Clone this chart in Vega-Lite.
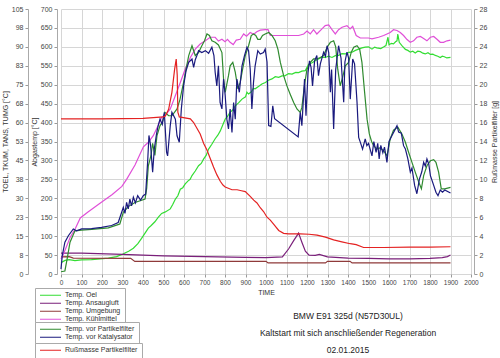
{
"$schema": "https://vega.github.io/schema/vega-lite/v6.json",
"width": 410, "height": 265,
"autosize": "none",
"padding": {"left": 61, "top": 9, "right": 29, "bottom": 84},
"background": "white",
"config": {
 "font": "Liberation Sans",
 "view": {"stroke": null},
 "axis": {"labelFont": "Liberation Sans", "labelFontSize": 7, "labelColor": "#444", "titleFont": "Liberation Sans", "titleFontSize": 7, "titleFontWeight": "normal", "titleColor": "#333", "tickColor": "#999", "domainColor": "#aaa", "gridColor": "#d6d6d6", "tickSize": 3, "labelPadding": 2, "labelFlush": false, "labelOverlap": false},
 "legend": {"orient": "none", "title": null, "strokeColor": "#aaa", "padding": 4, "symbolType": "stroke", "symbolSize": 441, "symbolStrokeWidth": 1.2, "clipHeight": 6.5, "rowPadding": 0, "labelFontSize": 7, "labelFont": "Liberation Sans", "labelColor": "#333", "labelOffset": 3, "fillColor": "white"},
 "title": {"font": "Liberation Sans"}
},
"title": {"text": ["BMW E91 325d (N57D30UL)", "Kaltstart mit sich anschließender Regeneration", "02.01.2015"], "orient": "bottom", "anchor": "middle", "frame": "group", "fontSize": 8.5, "fontWeight": "normal", "lineHeight": 17, "dx": 82, "dy": -57, "offset": 10, "color": "#222"},
"datasets": {
 "temps": [
  {"s":"Temp. Oel","t":0,"v":4.5},{"s":"Temp. Oel","t":20,"v":5.4},{"s":"Temp. Oel","t":40,"v":5.7},{"s":"Temp. Oel","t":68,"v":5.3},{"s":"Temp. Oel","t":100,"v":5.6},{"s":"Temp. Oel","t":149,"v":5.7},{"s":"Temp. Oel","t":192,"v":6.0},{"s":"Temp. Oel","t":231,"v":6.3},{"s":"Temp. Oel","t":271,"v":6.9},{"s":"Temp. Oel","t":300,"v":7.8},{"s":"Temp. Oel","t":312,"v":8.3},{"s":"Temp. Oel","t":330,"v":9.0},{"s":"Temp. Oel","t":353,"v":10.2},{"s":"Temp. Oel","t":375,"v":12.0},{"s":"Temp. Oel","t":393,"v":14.1},{"s":"Temp. Oel","t":410,"v":16.2},{"s":"Temp. Oel","t":426,"v":18.2},{"s":"Temp. Oel","t":440,"v":19.2},{"s":"Temp. Oel","t":458,"v":20.7},{"s":"Temp. Oel","t":475,"v":22.5},{"s":"Temp. Oel","t":491,"v":24.0},{"s":"Temp. Oel","t":509,"v":24.6},{"s":"Temp. Oel","t":533,"v":25.8},{"s":"Temp. Oel","t":545,"v":27.5},{"s":"Temp. Oel","t":558,"v":29.7},{"s":"Temp. Oel","t":570,"v":31.0},{"s":"Temp. Oel","t":582,"v":33.6},{"s":"Temp. Oel","t":594,"v":34.2},{"s":"Temp. Oel","t":606,"v":35.7},{"s":"Temp. Oel","t":620,"v":36.9},{"s":"Temp. Oel","t":630,"v":37.5},{"s":"Temp. Oel","t":639,"v":39.0},{"s":"Temp. Oel","t":655,"v":40.8},{"s":"Temp. Oel","t":671,"v":42.9},{"s":"Temp. Oel","t":684,"v":43.8},{"s":"Temp. Oel","t":696,"v":45.6},{"s":"Temp. Oel","t":708,"v":47.0},{"s":"Temp. Oel","t":720,"v":49.5},{"s":"Temp. Oel","t":735,"v":51.3},{"s":"Temp. Oel","t":752,"v":53.6},{"s":"Temp. Oel","t":765,"v":55.0},{"s":"Temp. Oel","t":777,"v":56.7},{"s":"Temp. Oel","t":790,"v":59.2},{"s":"Temp. Oel","t":801,"v":61.4},{"s":"Temp. Oel","t":813,"v":62.5},{"s":"Temp. Oel","t":825,"v":64.1},{"s":"Temp. Oel","t":838,"v":65.0},{"s":"Temp. Oel","t":850,"v":66.6},{"s":"Temp. Oel","t":866,"v":67.8},{"s":"Temp. Oel","t":883,"v":69.3},{"s":"Temp. Oel","t":900,"v":70.2},{"s":"Temp. Oel","t":907,"v":72.0},{"s":"Temp. Oel","t":915,"v":71.3},{"s":"Temp. Oel","t":930,"v":72.3},{"s":"Temp. Oel","t":938,"v":73.5},{"s":"Temp. Oel","t":947,"v":73.4},{"s":"Temp. Oel","t":965,"v":74.4},{"s":"Temp. Oel","t":980,"v":75.3},{"s":"Temp. Oel","t":997,"v":75.9},{"s":"Temp. Oel","t":1012,"v":76.8},{"s":"Temp. Oel","t":1029,"v":77.3},{"s":"Temp. Oel","t":1045,"v":78.2},{"s":"Temp. Oel","t":1062,"v":77.9},{"s":"Temp. Oel","t":1078,"v":78.5},{"s":"Temp. Oel","t":1094,"v":78.6},{"s":"Temp. Oel","t":1110,"v":79.4},{"s":"Temp. Oel","t":1127,"v":79.2},{"s":"Temp. Oel","t":1145,"v":79.9},{"s":"Temp. Oel","t":1159,"v":79.8},{"s":"Temp. Oel","t":1175,"v":80.4},{"s":"Temp. Oel","t":1192,"v":80.6},{"s":"Temp. Oel","t":1208,"v":83.1},{"s":"Temp. Oel","t":1225,"v":83.7},{"s":"Temp. Oel","t":1240,"v":84.5},{"s":"Temp. Oel","t":1256,"v":85.2},{"s":"Temp. Oel","t":1272,"v":85.9},{"s":"Temp. Oel","t":1289,"v":85.8},{"s":"Temp. Oel","t":1305,"v":86.3},{"s":"Temp. Oel","t":1322,"v":85.8},{"s":"Temp. Oel","t":1338,"v":86.5},{"s":"Temp. Oel","t":1354,"v":86.6},{"s":"Temp. Oel","t":1370,"v":87.3},{"s":"Temp. Oel","t":1387,"v":87.2},{"s":"Temp. Oel","t":1403,"v":87.8},{"s":"Temp. Oel","t":1420,"v":87.9},{"s":"Temp. Oel","t":1436,"v":88.6},{"s":"Temp. Oel","t":1452,"v":89.1},{"s":"Temp. Oel","t":1468,"v":89.6},{"s":"Temp. Oel","t":1484,"v":89.9},{"s":"Temp. Oel","t":1500,"v":90.0},{"s":"Temp. Oel","t":1517,"v":89.1},{"s":"Temp. Oel","t":1530,"v":89.9},{"s":"Temp. Oel","t":1540,"v":89.6},{"s":"Temp. Oel","t":1560,"v":89.3},{"s":"Temp. Oel","t":1575,"v":90.0},{"s":"Temp. Oel","t":1585,"v":90.5},{"s":"Temp. Oel","t":1595,"v":93.8},{"s":"Temp. Oel","t":1600,"v":90.8},{"s":"Temp. Oel","t":1612,"v":91.4},{"s":"Temp. Oel","t":1622,"v":91.2},{"s":"Temp. Oel","t":1632,"v":92.0},{"s":"Temp. Oel","t":1639,"v":92.4},{"s":"Temp. Oel","t":1643,"v":95.1},{"s":"Temp. Oel","t":1650,"v":91.8},{"s":"Temp. Oel","t":1663,"v":90.5},{"s":"Temp. Oel","t":1680,"v":89.0},{"s":"Temp. Oel","t":1692,"v":88.6},{"s":"Temp. Oel","t":1704,"v":87.9},{"s":"Temp. Oel","t":1716,"v":88.3},{"s":"Temp. Oel","t":1728,"v":87.6},{"s":"Temp. Oel","t":1740,"v":88.3},{"s":"Temp. Oel","t":1753,"v":88.1},{"s":"Temp. Oel","t":1765,"v":87.5},{"s":"Temp. Oel","t":1777,"v":87.2},{"s":"Temp. Oel","t":1790,"v":87.7},{"s":"Temp. Oel","t":1802,"v":87.0},{"s":"Temp. Oel","t":1814,"v":87.1},{"s":"Temp. Oel","t":1826,"v":86.6},{"s":"Temp. Oel","t":1838,"v":86.3},{"s":"Temp. Oel","t":1850,"v":85.8},{"s":"Temp. Oel","t":1860,"v":86.3},{"s":"Temp. Oel","t":1870,"v":86.1},{"s":"Temp. Oel","t":1882,"v":85.6},{"s":"Temp. Oel","t":1900,"v":85.8},
  {"s":"Temp. Ansaugluft","t":0,"v":8.3},{"s":"Temp. Ansaugluft","t":100,"v":8.3},{"s":"Temp. Ansaugluft","t":300,"v":7.8},{"s":"Temp. Ansaugluft","t":500,"v":7.2},{"s":"Temp. Ansaugluft","t":700,"v":6.9},{"s":"Temp. Ansaugluft","t":900,"v":6.6},{"s":"Temp. Ansaugluft","t":1000,"v":6.5},{"s":"Temp. Ansaugluft","t":1080,"v":6.8},{"s":"Temp. Ansaugluft","t":1110,"v":9.9},{"s":"Temp. Ansaugluft","t":1135,"v":13.2},{"s":"Temp. Ansaugluft","t":1159,"v":16.2},{"s":"Temp. Ansaugluft","t":1175,"v":12.6},{"s":"Temp. Ansaugluft","t":1192,"v":9.0},{"s":"Temp. Ansaugluft","t":1210,"v":7.5},{"s":"Temp. Ansaugluft","t":1240,"v":7.4},{"s":"Temp. Ansaugluft","t":1260,"v":7.8},{"s":"Temp. Ansaugluft","t":1300,"v":6.8},{"s":"Temp. Ansaugluft","t":1400,"v":6.3},{"s":"Temp. Ansaugluft","t":1500,"v":6.2},{"s":"Temp. Ansaugluft","t":1600,"v":6.0},{"s":"Temp. Ansaugluft","t":1700,"v":6.0},{"s":"Temp. Ansaugluft","t":1800,"v":6.2},{"s":"Temp. Ansaugluft","t":1860,"v":6.5},{"s":"Temp. Ansaugluft","t":1885,"v":6.9},{"s":"Temp. Ansaugluft","t":1900,"v":7.5},
  {"s":"Temp. Umgebung","t":0,"v":6.8},{"s":"Temp. Umgebung","t":40,"v":6.9},{"s":"Temp. Umgebung","t":60,"v":6.3},{"s":"Temp. Umgebung","t":340,"v":6.2},{"s":"Temp. Umgebung","t":360,"v":5.0},{"s":"Temp. Umgebung","t":1000,"v":5.0},{"s":"Temp. Umgebung","t":1010,"v":4.4},{"s":"Temp. Umgebung","t":1290,"v":4.4},{"s":"Temp. Umgebung","t":1300,"v":5.0},{"s":"Temp. Umgebung","t":1410,"v":5.0},{"s":"Temp. Umgebung","t":1420,"v":4.4},{"s":"Temp. Umgebung","t":1900,"v":4.4},
  {"s":"Temp. Kühlmittel","t":0,"v":6.0},{"s":"Temp. Kühlmittel","t":10,"v":7.5},{"s":"Temp. Kühlmittel","t":25,"v":10.5},{"s":"Temp. Kühlmittel","t":45,"v":14.6},{"s":"Temp. Kühlmittel","t":70,"v":18.0},{"s":"Temp. Kühlmittel","t":94,"v":22.2},{"s":"Temp. Kühlmittel","t":130,"v":24.5},{"s":"Temp. Kühlmittel","t":192,"v":28.1},{"s":"Temp. Kühlmittel","t":250,"v":31.5},{"s":"Temp. Kühlmittel","t":297,"v":34.7},{"s":"Temp. Kühlmittel","t":320,"v":37.5},{"s":"Temp. Kühlmittel","t":361,"v":43.2},{"s":"Temp. Kühlmittel","t":402,"v":50.4},{"s":"Temp. Kühlmittel","t":426,"v":52.2},{"s":"Temp. Kühlmittel","t":450,"v":54.8},{"s":"Temp. Kühlmittel","t":474,"v":58.8},{"s":"Temp. Kühlmittel","t":491,"v":62.1},{"s":"Temp. Kühlmittel","t":510,"v":63.0},{"s":"Temp. Kühlmittel","t":533,"v":65.4},{"s":"Temp. Kühlmittel","t":558,"v":70.7},{"s":"Temp. Kühlmittel","t":582,"v":75.9},{"s":"Temp. Kühlmittel","t":606,"v":81.2},{"s":"Temp. Kühlmittel","t":631,"v":85.8},{"s":"Temp. Kühlmittel","t":655,"v":89.1},{"s":"Temp. Kühlmittel","t":679,"v":91.1},{"s":"Temp. Kühlmittel","t":704,"v":92.4},{"s":"Temp. Kühlmittel","t":728,"v":93.8},{"s":"Temp. Kühlmittel","t":752,"v":93.8},{"s":"Temp. Kühlmittel","t":768,"v":92.3},{"s":"Temp. Kühlmittel","t":785,"v":93.0},{"s":"Temp. Kühlmittel","t":800,"v":92.0},{"s":"Temp. Kühlmittel","t":812,"v":93.0},{"s":"Temp. Kühlmittel","t":825,"v":91.8},{"s":"Temp. Kühlmittel","t":840,"v":90.9},{"s":"Temp. Kühlmittel","t":855,"v":92.7},{"s":"Temp. Kühlmittel","t":874,"v":93.0},{"s":"Temp. Kühlmittel","t":891,"v":95.1},{"s":"Temp. Kühlmittel","t":905,"v":94.2},{"s":"Temp. Kühlmittel","t":923,"v":95.7},{"s":"Temp. Kühlmittel","t":940,"v":95.0},{"s":"Temp. Kühlmittel","t":955,"v":96.0},{"s":"Temp. Kühlmittel","t":972,"v":96.6},{"s":"Temp. Kühlmittel","t":996,"v":96.8},{"s":"Temp. Kühlmittel","t":1010,"v":96.8},{"s":"Temp. Kühlmittel","t":1021,"v":94.5},{"s":"Temp. Kühlmittel","t":1078,"v":94.5},{"s":"Temp. Kühlmittel","t":1159,"v":94.5},{"s":"Temp. Kühlmittel","t":1184,"v":95.1},{"s":"Temp. Kühlmittel","t":1200,"v":96.3},{"s":"Temp. Kühlmittel","t":1216,"v":95.1},{"s":"Temp. Kühlmittel","t":1232,"v":96.8},{"s":"Temp. Kühlmittel","t":1248,"v":95.1},{"s":"Temp. Kühlmittel","t":1273,"v":97.1},{"s":"Temp. Kühlmittel","t":1289,"v":98.4},{"s":"Temp. Kühlmittel","t":1306,"v":98.7},{"s":"Temp. Kühlmittel","t":1322,"v":96.8},{"s":"Temp. Kühlmittel","t":1338,"v":95.1},{"s":"Temp. Kühlmittel","t":1354,"v":96.8},{"s":"Temp. Kühlmittel","t":1371,"v":97.8},{"s":"Temp. Kühlmittel","t":1395,"v":98.4},{"s":"Temp. Kühlmittel","t":1410,"v":97.1},{"s":"Temp. Kühlmittel","t":1423,"v":98.1},{"s":"Temp. Kühlmittel","t":1440,"v":94.5},{"s":"Temp. Kühlmittel","t":1460,"v":93.5},{"s":"Temp. Kühlmittel","t":1500,"v":93.5},{"s":"Temp. Kühlmittel","t":1517,"v":93.2},{"s":"Temp. Kühlmittel","t":1549,"v":93.8},{"s":"Temp. Kühlmittel","t":1574,"v":94.5},{"s":"Temp. Kühlmittel","t":1590,"v":95.1},{"s":"Temp. Kühlmittel","t":1606,"v":95.7},{"s":"Temp. Kühlmittel","t":1622,"v":96.8},{"s":"Temp. Kühlmittel","t":1639,"v":96.5},{"s":"Temp. Kühlmittel","t":1655,"v":95.7},{"s":"Temp. Kühlmittel","t":1671,"v":94.5},{"s":"Temp. Kühlmittel","t":1688,"v":92.9},{"s":"Temp. Kühlmittel","t":1704,"v":91.8},{"s":"Temp. Kühlmittel","t":1720,"v":92.4},{"s":"Temp. Kühlmittel","t":1736,"v":93.8},{"s":"Temp. Kühlmittel","t":1753,"v":94.1},{"s":"Temp. Kühlmittel","t":1769,"v":93.3},{"s":"Temp. Kühlmittel","t":1785,"v":92.4},{"s":"Temp. Kühlmittel","t":1802,"v":93.8},{"s":"Temp. Kühlmittel","t":1818,"v":94.1},{"s":"Temp. Kühlmittel","t":1834,"v":93.0},{"s":"Temp. Kühlmittel","t":1850,"v":91.8},{"s":"Temp. Kühlmittel","t":1866,"v":91.8},{"s":"Temp. Kühlmittel","t":1883,"v":92.4},{"s":"Temp. Kühlmittel","t":1900,"v":92.7}
 ],
 "abgas": [
  {"s":"Temp. vor Partikelfilter","t":0,"v":6},{"s":"Temp. vor Partikelfilter","t":19,"v":8},{"s":"Temp. vor Partikelfilter","t":30,"v":40},{"s":"Temp. vor Partikelfilter","t":44,"v":84},{"s":"Temp. vor Partikelfilter","t":68,"v":114},{"s":"Temp. vor Partikelfilter","t":100,"v":116},{"s":"Temp. vor Partikelfilter","t":150,"v":118},{"s":"Temp. vor Partikelfilter","t":231,"v":122},{"s":"Temp. vor Partikelfilter","t":271,"v":129},{"s":"Temp. vor Partikelfilter","t":287,"v":132},{"s":"Temp. vor Partikelfilter","t":304,"v":163},{"s":"Temp. vor Partikelfilter","t":328,"v":178},{"s":"Temp. vor Partikelfilter","t":361,"v":189},{"s":"Temp. vor Partikelfilter","t":410,"v":198},{"s":"Temp. vor Partikelfilter","t":418,"v":226},{"s":"Temp. vor Partikelfilter","t":426,"v":286},{"s":"Temp. vor Partikelfilter","t":439,"v":313},{"s":"Temp. vor Partikelfilter","t":447,"v":345},{"s":"Temp. vor Partikelfilter","t":458,"v":313},{"s":"Temp. vor Partikelfilter","t":468,"v":365},{"s":"Temp. vor Partikelfilter","t":483,"v":392},{"s":"Temp. vor Partikelfilter","t":494,"v":400},{"s":"Temp. vor Partikelfilter","t":507,"v":427},{"s":"Temp. vor Partikelfilter","t":525,"v":418},{"s":"Temp. vor Partikelfilter","t":541,"v":418},{"s":"Temp. vor Partikelfilter","t":566,"v":436},{"s":"Temp. vor Partikelfilter","t":580,"v":460},{"s":"Temp. vor Partikelfilter","t":598,"v":506},{"s":"Temp. vor Partikelfilter","t":610,"v":541},{"s":"Temp. vor Partikelfilter","t":623,"v":577},{"s":"Temp. vor Partikelfilter","t":639,"v":603},{"s":"Temp. vor Partikelfilter","t":655,"v":577},{"s":"Temp. vor Partikelfilter","t":671,"v":585},{"s":"Temp. vor Partikelfilter","t":687,"v":603},{"s":"Temp. vor Partikelfilter","t":700,"v":616},{"s":"Temp. vor Partikelfilter","t":712,"v":634},{"s":"Temp. vor Partikelfilter","t":724,"v":630},{"s":"Temp. vor Partikelfilter","t":736,"v":616},{"s":"Temp. vor Partikelfilter","t":752,"v":612},{"s":"Temp. vor Partikelfilter","t":768,"v":605},{"s":"Temp. vor Partikelfilter","t":785,"v":585},{"s":"Temp. vor Partikelfilter","t":793,"v":515},{"s":"Temp. vor Partikelfilter","t":801,"v":480},{"s":"Temp. vor Partikelfilter","t":817,"v":524},{"s":"Temp. vor Partikelfilter","t":825,"v":550},{"s":"Temp. vor Partikelfilter","t":838,"v":559},{"s":"Temp. vor Partikelfilter","t":850,"v":533},{"s":"Temp. vor Partikelfilter","t":863,"v":489},{"s":"Temp. vor Partikelfilter","t":874,"v":506},{"s":"Temp. vor Partikelfilter","t":886,"v":541},{"s":"Temp. vor Partikelfilter","t":899,"v":577},{"s":"Temp. vor Partikelfilter","t":915,"v":603},{"s":"Temp. vor Partikelfilter","t":928,"v":630},{"s":"Temp. vor Partikelfilter","t":939,"v":634},{"s":"Temp. vor Partikelfilter","t":950,"v":630},{"s":"Temp. vor Partikelfilter","t":960,"v":620},{"s":"Temp. vor Partikelfilter","t":972,"v":620},{"s":"Temp. vor Partikelfilter","t":983,"v":630},{"s":"Temp. vor Partikelfilter","t":996,"v":634},{"s":"Temp. vor Partikelfilter","t":1013,"v":638},{"s":"Temp. vor Partikelfilter","t":1029,"v":630},{"s":"Temp. vor Partikelfilter","t":1045,"v":616},{"s":"Temp. vor Partikelfilter","t":1058,"v":594},{"s":"Temp. vor Partikelfilter","t":1070,"v":559},{"s":"Temp. vor Partikelfilter","t":1086,"v":524},{"s":"Temp. vor Partikelfilter","t":1102,"v":497},{"s":"Temp. vor Partikelfilter","t":1118,"v":475},{"s":"Temp. vor Partikelfilter","t":1135,"v":453},{"s":"Temp. vor Partikelfilter","t":1151,"v":436},{"s":"Temp. vor Partikelfilter","t":1167,"v":427},{"s":"Temp. vor Partikelfilter","t":1175,"v":440},{"s":"Temp. vor Partikelfilter","t":1188,"v":500},{"s":"Temp. vor Partikelfilter","t":1200,"v":541},{"s":"Temp. vor Partikelfilter","t":1216,"v":559},{"s":"Temp. vor Partikelfilter","t":1232,"v":568},{"s":"Temp. vor Partikelfilter","t":1248,"v":568},{"s":"Temp. vor Partikelfilter","t":1265,"v":572},{"s":"Temp. vor Partikelfilter","t":1281,"v":577},{"s":"Temp. vor Partikelfilter","t":1298,"v":599},{"s":"Temp. vor Partikelfilter","t":1314,"v":612},{"s":"Temp. vor Partikelfilter","t":1330,"v":616},{"s":"Temp. vor Partikelfilter","t":1340,"v":600},{"s":"Temp. vor Partikelfilter","t":1350,"v":541},{"s":"Temp. vor Partikelfilter","t":1362,"v":497},{"s":"Temp. vor Partikelfilter","t":1374,"v":520},{"s":"Temp. vor Partikelfilter","t":1387,"v":550},{"s":"Temp. vor Partikelfilter","t":1403,"v":559},{"s":"Temp. vor Partikelfilter","t":1416,"v":586},{"s":"Temp. vor Partikelfilter","t":1428,"v":599},{"s":"Temp. vor Partikelfilter","t":1444,"v":603},{"s":"Temp. vor Partikelfilter","t":1457,"v":594},{"s":"Temp. vor Partikelfilter","t":1468,"v":559},{"s":"Temp. vor Partikelfilter","t":1481,"v":480},{"s":"Temp. vor Partikelfilter","t":1493,"v":409},{"s":"Temp. vor Partikelfilter","t":1504,"v":370},{"s":"Temp. vor Partikelfilter","t":1515,"v":350},{"s":"Temp. vor Partikelfilter","t":1525,"v":339},{"s":"Temp. vor Partikelfilter","t":1541,"v":330},{"s":"Temp. vor Partikelfilter","t":1555,"v":333},{"s":"Temp. vor Partikelfilter","t":1574,"v":326},{"s":"Temp. vor Partikelfilter","t":1590,"v":312},{"s":"Temp. vor Partikelfilter","t":1606,"v":357},{"s":"Temp. vor Partikelfilter","t":1622,"v":380},{"s":"Temp. vor Partikelfilter","t":1643,"v":388},{"s":"Temp. vor Partikelfilter","t":1663,"v":370},{"s":"Temp. vor Partikelfilter","t":1680,"v":348},{"s":"Temp. vor Partikelfilter","t":1696,"v":321},{"s":"Temp. vor Partikelfilter","t":1712,"v":295},{"s":"Temp. vor Partikelfilter","t":1728,"v":269},{"s":"Temp. vor Partikelfilter","t":1745,"v":243},{"s":"Temp. vor Partikelfilter","t":1758,"v":225},{"s":"Temp. vor Partikelfilter","t":1769,"v":260},{"s":"Temp. vor Partikelfilter","t":1785,"v":286},{"s":"Temp. vor Partikelfilter","t":1802,"v":299},{"s":"Temp. vor Partikelfilter","t":1818,"v":302},{"s":"Temp. vor Partikelfilter","t":1829,"v":295},{"s":"Temp. vor Partikelfilter","t":1842,"v":269},{"s":"Temp. vor Partikelfilter","t":1855,"v":225},{"s":"Temp. vor Partikelfilter","t":1872,"v":225},{"s":"Temp. vor Partikelfilter","t":1900,"v":229},
  {"s":"Temp. vor Katalysator","t":0,"v":13},{"s":"Temp. vor Katalysator","t":6,"v":48},{"s":"Temp. vor Katalysator","t":19,"v":84},{"s":"Temp. vor Katalysator","t":36,"v":101},{"s":"Temp. vor Katalysator","t":60,"v":119},{"s":"Temp. vor Katalysator","t":76,"v":114},{"s":"Temp. vor Katalysator","t":101,"v":119},{"s":"Temp. vor Katalysator","t":149,"v":120},{"s":"Temp. vor Katalysator","t":198,"v":123},{"s":"Temp. vor Katalysator","t":247,"v":128},{"s":"Temp. vor Katalysator","t":279,"v":136},{"s":"Temp. vor Katalysator","t":296,"v":163},{"s":"Temp. vor Katalysator","t":304,"v":176},{"s":"Temp. vor Katalysator","t":312,"v":160},{"s":"Temp. vor Katalysator","t":320,"v":189},{"s":"Temp. vor Katalysator","t":328,"v":172},{"s":"Temp. vor Katalysator","t":336,"v":198},{"s":"Temp. vor Katalysator","t":344,"v":180},{"s":"Temp. vor Katalysator","t":353,"v":203},{"s":"Temp. vor Katalysator","t":363,"v":188},{"s":"Temp. vor Katalysator","t":374,"v":207},{"s":"Temp. vor Katalysator","t":388,"v":195},{"s":"Temp. vor Katalysator","t":401,"v":207},{"s":"Temp. vor Katalysator","t":413,"v":211},{"s":"Temp. vor Katalysator","t":423,"v":300},{"s":"Temp. vor Katalysator","t":429,"v":366},{"s":"Temp. vor Katalysator","t":437,"v":340},{"s":"Temp. vor Katalysator","t":447,"v":269},{"s":"Temp. vor Katalysator","t":455,"v":330},{"s":"Temp. vor Katalysator","t":466,"v":370},{"s":"Temp. vor Katalysator","t":474,"v":392},{"s":"Temp. vor Katalysator","t":483,"v":409},{"s":"Temp. vor Katalysator","t":494,"v":395},{"s":"Temp. vor Katalysator","t":504,"v":427},{"s":"Temp. vor Katalysator","t":515,"v":322},{"s":"Temp. vor Katalysator","t":520,"v":312},{"s":"Temp. vor Katalysator","t":533,"v":392},{"s":"Temp. vor Katalysator","t":541,"v":427},{"s":"Temp. vor Katalysator","t":558,"v":409},{"s":"Temp. vor Katalysator","t":566,"v":365},{"s":"Temp. vor Katalysator","t":577,"v":348},{"s":"Temp. vor Katalysator","t":587,"v":436},{"s":"Temp. vor Katalysator","t":598,"v":497},{"s":"Temp. vor Katalysator","t":610,"v":537},{"s":"Temp. vor Katalysator","t":623,"v":559},{"s":"Temp. vor Katalysator","t":639,"v":568},{"s":"Temp. vor Katalysator","t":647,"v":546},{"s":"Temp. vor Katalysator","t":655,"v":566},{"s":"Temp. vor Katalysator","t":663,"v":577},{"s":"Temp. vor Katalysator","t":671,"v":590},{"s":"Temp. vor Katalysator","t":687,"v":585},{"s":"Temp. vor Katalysator","t":704,"v":590},{"s":"Temp. vor Katalysator","t":720,"v":583},{"s":"Temp. vor Katalysator","t":736,"v":599},{"s":"Temp. vor Katalysator","t":746,"v":577},{"s":"Temp. vor Katalysator","t":752,"v":533},{"s":"Temp. vor Katalysator","t":760,"v":497},{"s":"Temp. vor Katalysator","t":768,"v":550},{"s":"Temp. vor Katalysator","t":776,"v":453},{"s":"Temp. vor Katalysator","t":785,"v":436},{"s":"Temp. vor Katalysator","t":793,"v":515},{"s":"Temp. vor Katalysator","t":801,"v":471},{"s":"Temp. vor Katalysator","t":809,"v":409},{"s":"Temp. vor Katalysator","t":817,"v":383},{"s":"Temp. vor Katalysator","t":825,"v":436},{"s":"Temp. vor Katalysator","t":834,"v":374},{"s":"Temp. vor Katalysator","t":842,"v":453},{"s":"Temp. vor Katalysator","t":850,"v":409},{"s":"Temp. vor Katalysator","t":858,"v":515},{"s":"Temp. vor Katalysator","t":870,"v":480},{"s":"Temp. vor Katalysator","t":883,"v":550},{"s":"Temp. vor Katalysator","t":895,"v":577},{"s":"Temp. vor Katalysator","t":907,"v":599},{"s":"Temp. vor Katalysator","t":915,"v":590},{"s":"Temp. vor Katalysator","t":923,"v":541},{"s":"Temp. vor Katalysator","t":931,"v":436},{"s":"Temp. vor Katalysator","t":939,"v":506},{"s":"Temp. vor Katalysator","t":947,"v":550},{"s":"Temp. vor Katalysator","t":960,"v":590},{"s":"Temp. vor Katalysator","t":972,"v":581},{"s":"Temp. vor Katalysator","t":988,"v":585},{"s":"Temp. vor Katalysator","t":996,"v":594},{"s":"Temp. vor Katalysator","t":1005,"v":560},{"s":"Temp. vor Katalysator","t":1013,"v":392},{"s":"Temp. vor Katalysator","t":1024,"v":390},{"s":"Temp. vor Katalysator","t":1033,"v":444},{"s":"Temp. vor Katalysator","t":1042,"v":410},{"s":"Temp. vor Katalysator","t":1157,"v":362},{"s":"Temp. vor Katalysator","t":1167,"v":427},{"s":"Temp. vor Katalysator","t":1175,"v":392},{"s":"Temp. vor Katalysator","t":1188,"v":515},{"s":"Temp. vor Katalysator","t":1195,"v":418},{"s":"Temp. vor Katalysator","t":1205,"v":532},{"s":"Temp. vor Katalysator","t":1212,"v":563},{"s":"Temp. vor Katalysator","t":1220,"v":545},{"s":"Temp. vor Katalysator","t":1227,"v":497},{"s":"Temp. vor Katalysator","t":1237,"v":563},{"s":"Temp. vor Katalysator","t":1248,"v":577},{"s":"Temp. vor Katalysator","t":1256,"v":524},{"s":"Temp. vor Katalysator","t":1265,"v":555},{"s":"Temp. vor Katalysator","t":1281,"v":586},{"s":"Temp. vor Katalysator","t":1290,"v":575},{"s":"Temp. vor Katalysator","t":1298,"v":603},{"s":"Temp. vor Katalysator","t":1306,"v":585},{"s":"Temp. vor Katalysator","t":1314,"v":480},{"s":"Temp. vor Katalysator","t":1320,"v":540},{"s":"Temp. vor Katalysator","t":1330,"v":383},{"s":"Temp. vor Katalysator","t":1340,"v":540},{"s":"Temp. vor Katalysator","t":1354,"v":603},{"s":"Temp. vor Katalysator","t":1366,"v":570},{"s":"Temp. vor Katalysator","t":1379,"v":454},{"s":"Temp. vor Katalysator","t":1385,"v":560},{"s":"Temp. vor Katalysator","t":1395,"v":586},{"s":"Temp. vor Katalysator","t":1403,"v":570},{"s":"Temp. vor Katalysator","t":1411,"v":462},{"s":"Temp. vor Katalysator","t":1423,"v":568},{"s":"Temp. vor Katalysator","t":1432,"v":555},{"s":"Temp. vor Katalysator","t":1444,"v":454},{"s":"Temp. vor Katalysator","t":1452,"v":361},{"s":"Temp. vor Katalysator","t":1462,"v":345},{"s":"Temp. vor Katalysator","t":1471,"v":330},{"s":"Temp. vor Katalysator","t":1484,"v":357},{"s":"Temp. vor Katalysator","t":1492,"v":339},{"s":"Temp. vor Katalysator","t":1500,"v":345},{"s":"Temp. vor Katalysator","t":1517,"v":312},{"s":"Temp. vor Katalysator","t":1526,"v":350},{"s":"Temp. vor Katalysator","t":1537,"v":321},{"s":"Temp. vor Katalysator","t":1545,"v":345},{"s":"Temp. vor Katalysator","t":1552,"v":304},{"s":"Temp. vor Katalysator","t":1560,"v":340},{"s":"Temp. vor Katalysator","t":1570,"v":320},{"s":"Temp. vor Katalysator","t":1578,"v":335},{"s":"Temp. vor Katalysator","t":1590,"v":295},{"s":"Temp. vor Katalysator","t":1600,"v":350},{"s":"Temp. vor Katalysator","t":1614,"v":365},{"s":"Temp. vor Katalysator","t":1628,"v":380},{"s":"Temp. vor Katalysator","t":1639,"v":392},{"s":"Temp. vor Katalysator","t":1647,"v":375},{"s":"Temp. vor Katalysator","t":1660,"v":372},{"s":"Temp. vor Katalysator","t":1671,"v":339},{"s":"Temp. vor Katalysator","t":1680,"v":330},{"s":"Temp. vor Katalysator","t":1692,"v":304},{"s":"Temp. vor Katalysator","t":1704,"v":269},{"s":"Temp. vor Katalysator","t":1712,"v":280},{"s":"Temp. vor Katalysator","t":1725,"v":234},{"s":"Temp. vor Katalysator","t":1736,"v":212},{"s":"Temp. vor Katalysator","t":1748,"v":250},{"s":"Temp. vor Katalysator","t":1760,"v":270},{"s":"Temp. vor Katalysator","t":1769,"v":295},{"s":"Temp. vor Katalysator","t":1777,"v":285},{"s":"Temp. vor Katalysator","t":1785,"v":304},{"s":"Temp. vor Katalysator","t":1794,"v":290},{"s":"Temp. vor Katalysator","t":1802,"v":260},{"s":"Temp. vor Katalysator","t":1818,"v":234},{"s":"Temp. vor Katalysator","t":1829,"v":216},{"s":"Temp. vor Katalysator","t":1839,"v":207},{"s":"Temp. vor Katalysator","t":1850,"v":222},{"s":"Temp. vor Katalysator","t":1861,"v":216},{"s":"Temp. vor Katalysator","t":1872,"v":222},{"s":"Temp. vor Katalysator","t":1900,"v":214}
 ],
 "soot": [
  {"s":"Rußmasse Partikelfilter","t":0,"v":16.4},{"s":"Rußmasse Partikelfilter","t":200,"v":16.4},{"s":"Rußmasse Partikelfilter","t":400,"v":16.44},{"s":"Rußmasse Partikelfilter","t":500,"v":16.6},{"s":"Rußmasse Partikelfilter","t":509,"v":16.7},{"s":"Rußmasse Partikelfilter","t":525,"v":17.4},{"s":"Rußmasse Partikelfilter","t":541,"v":19.2},{"s":"Rußmasse Partikelfilter","t":554,"v":21.6},{"s":"Rußmasse Partikelfilter","t":562,"v":22.7},{"s":"Rußmasse Partikelfilter","t":567,"v":21.0},{"s":"Rußmasse Partikelfilter","t":570,"v":17.1},{"s":"Rußmasse Partikelfilter","t":577,"v":16.6},{"s":"Rußmasse Partikelfilter","t":631,"v":16.4},{"s":"Rußmasse Partikelfilter","t":647,"v":16.0},{"s":"Rußmasse Partikelfilter","t":663,"v":15.4},{"s":"Rußmasse Partikelfilter","t":679,"v":14.8},{"s":"Rußmasse Partikelfilter","t":696,"v":13.8},{"s":"Rußmasse Partikelfilter","t":712,"v":13.1},{"s":"Rußmasse Partikelfilter","t":728,"v":12.2},{"s":"Rußmasse Partikelfilter","t":744,"v":11.3},{"s":"Rußmasse Partikelfilter","t":760,"v":10.5},{"s":"Rußmasse Partikelfilter","t":777,"v":9.8},{"s":"Rußmasse Partikelfilter","t":790,"v":9.4},{"s":"Rußmasse Partikelfilter","t":801,"v":9.2},{"s":"Rußmasse Partikelfilter","t":834,"v":8.9},{"s":"Rußmasse Partikelfilter","t":859,"v":8.9},{"s":"Rußmasse Partikelfilter","t":880,"v":8.8},{"s":"Rußmasse Partikelfilter","t":899,"v":8.7},{"s":"Rußmasse Partikelfilter","t":923,"v":8.2},{"s":"Rußmasse Partikelfilter","t":940,"v":7.8},{"s":"Rußmasse Partikelfilter","t":956,"v":7.5},{"s":"Rußmasse Partikelfilter","t":972,"v":7.0},{"s":"Rußmasse Partikelfilter","t":988,"v":6.6},{"s":"Rußmasse Partikelfilter","t":1005,"v":6.0},{"s":"Rußmasse Partikelfilter","t":1021,"v":5.7},{"s":"Rußmasse Partikelfilter","t":1040,"v":5.2},{"s":"Rußmasse Partikelfilter","t":1062,"v":4.6},{"s":"Rußmasse Partikelfilter","t":1086,"v":4.3},{"s":"Rußmasse Partikelfilter","t":1110,"v":4.25},{"s":"Rußmasse Partikelfilter","t":1167,"v":4.24},{"s":"Rußmasse Partikelfilter","t":1210,"v":4.2},{"s":"Rußmasse Partikelfilter","t":1249,"v":4.1},{"s":"Rußmasse Partikelfilter","t":1290,"v":3.9},{"s":"Rußmasse Partikelfilter","t":1330,"v":3.6},{"s":"Rußmasse Partikelfilter","t":1370,"v":3.4},{"s":"Rußmasse Partikelfilter","t":1411,"v":3.2},{"s":"Rußmasse Partikelfilter","t":1440,"v":3.1},{"s":"Rußmasse Partikelfilter","t":1476,"v":2.8},{"s":"Rußmasse Partikelfilter","t":1574,"v":2.8},{"s":"Rußmasse Partikelfilter","t":1700,"v":2.84},{"s":"Rußmasse Partikelfilter","t":1800,"v":2.85},{"s":"Rußmasse Partikelfilter","t":1900,"v":2.88}
 ]
},
"layer": [
 {
  "data": {"name": "temps"},
  "mark": {"type": "line", "strokeWidth": 1.2},
  "encoding": {
   "x": {"field": "t", "type": "quantitative", "scale": {"domain": [0, 2000], "nice": false, "zero": false},
         "axis": {"values": [0,100,200,300,400,500,600,700,800,900,1000,1100,1200,1300,1400,1500,1600,1700,1800,1900,2000], "format": "d", "title": "TIME", "grid": true, "labelFontSize": 6.5, "titlePadding": 3, "domain": false, "labelOverlap": false, "labelFlush": false}},
   "y": {"field": "v", "type": "quantitative", "scale": {"domain": [0, 105], "nice": false},
         "axis": {"orient": "left", "offset": 33, "values": [0,7.5,15,22.5,30,37.5,45,52.5,60,67.5,75,82.5,90,97.5,105], "format": ".0f", "grid": false, "title": "TOEL, TKUM, TANS, TUMG [°C]", "titlePadding": 3}},
   "color": {"field": "s", "type": "nominal",
     "scale": {"domain": ["Temp. Oel", "Temp. Ansaugluft", "Temp. Umgebung", "Temp. Kühlmittel"], "range": ["#33dd33", "#7a1f7a", "#8f3a3a", "#e050d8"]},
     "legend": {"legendX": -26, "legendY": 279}}
  }
 },
 {
  "data": {"name": "abgas"},
  "mark": {"type": "line", "strokeWidth": 1.2},
  "encoding": {
   "x": {"field": "t", "type": "quantitative", "scale": {"domain": [0, 2000], "nice": false, "zero": false},
         "axis": {"values": [0,100,200,300,400,500,600,700,800,900,1000,1100,1200,1300,1400,1500,1600,1700,1800,1900,2000], "format": "d", "title": "TIME", "grid": true, "labelFontSize": 6.5, "titlePadding": 3, "domain": false, "labelOverlap": false, "labelFlush": false}},
   "y": {"field": "v", "type": "quantitative", "scale": {"domain": [0, 700], "nice": false},
         "axis": {"orient": "left", "offset": 4, "values": [0,50,100,150,200,250,300,350,400,450,500,550,600,650,700], "grid": true, "title": "Abgastemp [°C]", "titlePadding": 3}},
   "color": {"field": "s", "type": "nominal",
     "scale": {"domain": ["Temp. vor Partikelfilter", "Temp. vor Katalysator"], "range": ["#2f8a2f", "#1a1a7e"]},
     "legend": {"legendX": -26, "legendY": 313}}
  }
 },
 {
  "data": {"name": "soot"},
  "mark": {"type": "line", "strokeWidth": 1.2},
  "encoding": {
   "x": {"field": "t", "type": "quantitative", "scale": {"domain": [0, 2000], "nice": false, "zero": false},
         "axis": {"values": [0,100,200,300,400,500,600,700,800,900,1000,1100,1200,1300,1400,1500,1600,1700,1800,1900,2000], "format": "d", "title": "TIME", "grid": true, "labelFontSize": 6.5, "titlePadding": 3, "domain": false, "labelOverlap": false, "labelFlush": false}},
   "y": {"field": "v", "type": "quantitative", "scale": {"domain": [0, 28], "nice": false},
         "axis": {"orient": "right", "offset": 3, "values": [0,2,4,6,8,10,12,14,16,18,20,22,24,26,28], "grid": false, "title": "Rußmasse Partikelfilter [g]", "titleAngle": -90, "titleBaseline": "top", "titlePadding": 4}},
   "color": {"field": "s", "type": "nominal",
     "scale": {"domain": ["Rußmasse Partikelfilter"], "range": ["#e42222"]},
     "legend": {"legendX": -26, "legendY": 334}}
  }
 }
],
"resolve": {"scale": {"y": "independent", "color": "independent"}, "legend": {"color": "independent"}}
}
